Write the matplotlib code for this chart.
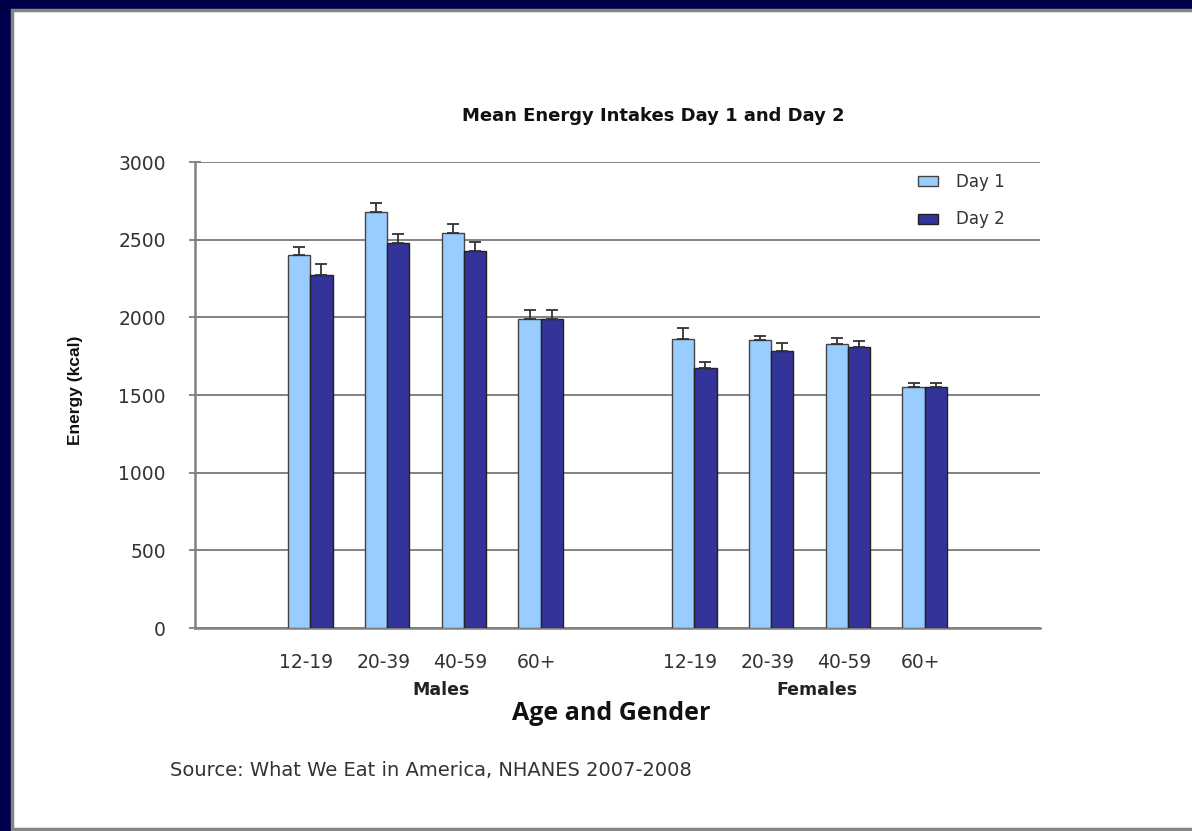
import matplotlib
matplotlib.use("Agg")
import matplotlib.pyplot as plt
from matplotlib.patches import Rectangle
import numpy as np

# ---- data ----
age_groups = ["12-19", "20-39", "40-59", "60+"]
genders = ["Males", "Females"]
series_names = ["Day 1", "Day 2"]
males_day1 = [2400, 2675, 2545, 1990]
males_day2 = [2275, 2480, 2430, 1990]
females_day1 = [1860, 1855, 1830, 1550]
females_day2 = [1675, 1785, 1810, 1550]
males_day1_err = [55, 60, 55, 55]
males_day2_err = [70, 55, 55, 55]
females_day1_err = [70, 25, 35, 30]
females_day2_err = [40, 50, 35, 30]
y_ticks = [0, 500, 1000, 1500, 2000, 2500, 3000]

plt.rcParams['font.family'] = ['DejaVu Sans']

W, H = 1192, 831
fig = plt.figure(figsize=(W / 100, H / 100), dpi=100)
fig.patch.set_facecolor('#00004a')
# white panel with grey frame
fig.patches.append(Rectangle((11.5 / W, 2.5 / H), (W + 10) / W, (H - 12) / H,
                             transform=fig.transFigure, facecolor='white',
                             edgecolor='#858585', linewidth=2.5, zorder=-10))

ax = fig.add_axes([195 / W, 1 - 628 / H, (1040 - 195) / W, (628 - 162) / H])
ax.set_facecolor('none')

# category slots: blank, 4 males, blank, 4 females, blank
male_pos = np.arange(1, 5)
female_pos = np.arange(6, 10)
pos = np.concatenate([male_pos, female_pos])
day1 = males_day1 + females_day1
day2 = males_day2 + females_day2
err1 = males_day1_err + females_day1_err
err2 = males_day2_err + females_day2_err

bw = 0.29
c1, c2 = '#99ccff', '#333399'
ax.bar(pos - bw / 2, day1, bw, color=c1, edgecolor='#444444', linewidth=1.0,
       label=series_names[0], zorder=3)
ax.bar(pos + bw / 2, day2, bw, color=c2, edgecolor='#222222', linewidth=1.0,
       label=series_names[1], zorder=3)
ax.errorbar(pos - bw / 2, day1, yerr=[np.zeros(len(err1)), err1], fmt='none',
            ecolor='#333333', elinewidth=1.3, capsize=4, capthick=1.3, zorder=4)
ax.errorbar(pos + bw / 2, day2, yerr=[np.zeros(len(err2)), err2], fmt='none',
            ecolor='#333333', elinewidth=1.3, capsize=4, capthick=1.3, zorder=4)

ax.set_xlim(-0.5, 10.5)
ax.set_ylim(0, 3000)
ax.set_yticks(y_ticks)
ax.set_yticklabels([str(v) for v in y_ticks], fontsize=13.5, color='#333333')
ax.yaxis.grid(True, color='#7a7a7a', linewidth=1.3, zorder=0)
ax.set_axisbelow(True)
ax.tick_params(axis='y', direction='inout', length=8, width=1.3, color='#808080', pad=17)

ax.set_xticks(pos - 0.05)
ax.set_xticklabels(age_groups + age_groups, fontsize=13.5, color='#333333')
ax.tick_params(axis='x', length=0, pad=18)

for s in ['top', 'right']:
    ax.spines[s].set_visible(False)
for s in ['left', 'bottom']:
    ax.spines[s].set_color('#808080')
    ax.spines[s].set_linewidth(1.8)

leg = ax.legend(loc='upper left', bbox_to_anchor=(0.838, 1.008), frameon=False,
                fontsize=12, handlelength=1.2, handleheight=0.55,
                labelspacing=1.15, handletextpad=1.1)
for t in leg.get_texts():
    t.set_color('#333333')

# group labels
ax.text(np.mean(male_pos) + 0.2, -0.133, genders[0], transform=ax.get_xaxis_transform(),
        ha='center', va='center', fontsize=12.5, fontweight='bold', color='#222222')
ax.text(np.mean(female_pos) + 0.1, -0.133, genders[1], transform=ax.get_xaxis_transform(),
        ha='center', va='center', fontsize=12.5, fontweight='bold', color='#222222')

fig.text(611 / W, 1 - 713 / H, "Age and Gender", ha='center', va='center',
         fontsize=18, fontweight='bold', family=['Open Sans', 'DejaVu Sans'], color='#111111')
fig.text(653 / W, 1 - 116 / H, "Mean Energy Intakes Day 1 and Day 2", ha='center', va='center',
         fontsize=13, fontweight='bold', color='#111111')
fig.text(75 / W, 1 - 390 / H, "Energy (kcal)", ha='center', va='center', rotation=90,
         fontsize=12.5, fontweight='bold', family=['Liberation Sans', 'DejaVu Sans'],
         color='#111111')
fig.text(170 / W, 1 - 771 / H, "Source: What We Eat in America, NHANES 2007-2008",
         ha='left', va='center', fontsize=14, color='#333333')

fig.savefig("out.png", dpi=100, facecolor=fig.get_facecolor())
